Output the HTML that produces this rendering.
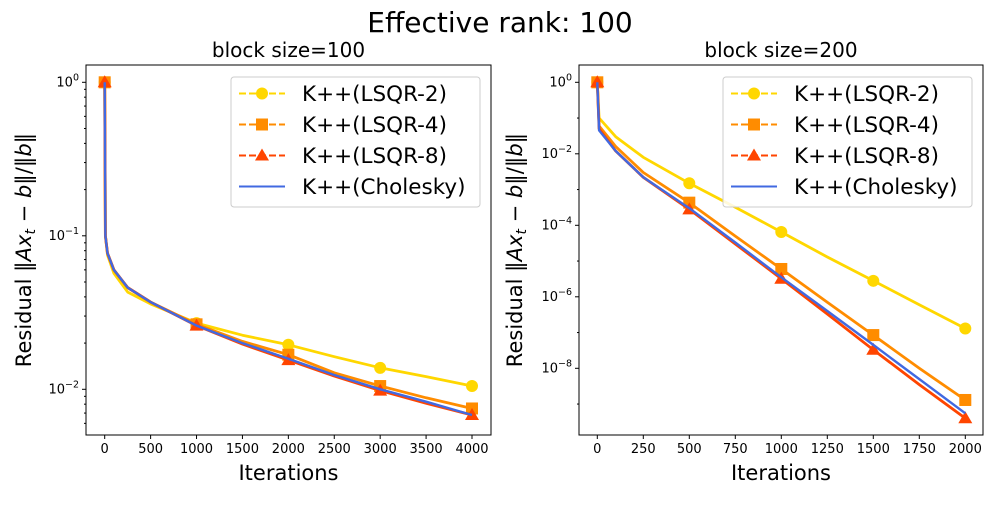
<!DOCTYPE html>
<html><head><meta charset="utf-8"><style>
body{margin:0;background:#fff}
svg text{font-family:"DejaVu Sans","Liberation Sans",sans-serif;fill:#000}
</style></head><body>
<svg id="fig" width="1000" height="500" xmlns="http://www.w3.org/2000/svg">
<text x="500" y="32" font-size="28" text-anchor="middle">Effective rank: 100</text>
</svg>
<script>
// ---- data ----
const seriesNames = ["K++(LSQR-2)","K++(LSQR-4)","K++(LSQR-8)","K++(Cholesky)"];
// left panel (block size=100)
const leftIters = [0, 8, 30, 100, 250, 500, 1000, 1500, 2000, 2500, 3000, 3500, 4000];
const leftLSQR2 = [1, 0.1, 0.075, 0.057, 0.043, 0.036, 0.027, 0.0225, 0.0195, 0.0163, 0.0138, 0.0121, 0.0105];
const leftLSQR4 = [1, 0.1, 0.077, 0.06, 0.046, 0.037, 0.0265, 0.0205, 0.0168, 0.0128, 0.0105, 0.0088, 0.0075];
const leftLSQR8 = [1, 0.1, 0.077, 0.06, 0.046, 0.037, 0.026, 0.0197, 0.0155, 0.0122, 0.0098, 0.0081, 0.0068];
const leftChol  = [1, 0.1, 0.077, 0.06, 0.046, 0.037, 0.026, 0.020, 0.0158, 0.0124, 0.0100, 0.0083, 0.0068];
const leftMarkIdx = [0, 6, 8, 10, 12];
const leftXTicks = [0,500,1000,1500,2000,2500,3000,3500,4000];
// right panel (block size=200)
const rightIters = [0, 10, 100, 250, 500, 750, 1000, 1250, 1500, 1750, 2000];
const rightLSQR2 = [1, 0.1, 0.03, 0.008, 1.5e-3, 3.2e-4, 6.5e-5, 1.3e-5, 2.8e-6, 6e-7, 1.3e-7];
const rightLSQR4 = [1, 0.06, 0.016, 0.003, 4.3e-4, 5e-5, 6e-6, 7e-7, 8.5e-8, 1e-8, 1.3e-9];
const rightLSQR8 = [1, 0.05, 0.012, 0.0022, 2.8e-4, 3e-5, 3.2e-6, 3.3e-7, 3.3e-8, 3.5e-9, 4e-10];
const rightChol  = [1, 0.045, 0.012, 0.0022, 3e-4, 3.3e-5, 3.5e-6, 4e-7, 4.5e-8, 5e-9, 5.5e-10];
const rightMarkIdx = [0, 4, 6, 8, 10];
const rightXTicks = [0,250,500,750,1000,1250,1500,1750,2000];

const colors = ["#FFD700","#FF8C00","#FF4500","#4169E1"];
const NS="http://www.w3.org/2000/svg";
const svg=document.getElementById('fig');
function mk(tag,attrs,parent){const e=document.createElementNS(NS,tag);for(const k in attrs)e.setAttribute(k,attrs[k]);(parent||svg).appendChild(e);return e;}

function marker(g,type,x,y,c){
  if(type===0) return mk('circle',{cx:x,cy:y,r:6,fill:c},g);
  if(type===1) return mk('rect',{x:x-6,y:y-6,width:12,height:12,fill:c},g);
  if(type===2) return mk('polygon',{points:`${x},${y-7} ${x+7},${y+5} ${x-7},${y+5}`,fill:c},g);
}

function panel(p){
  const g=mk('g',{});
  
  
  const X=v=>p.x0px+(v-p.xmin)*(p.x1px-p.x0px)/(p.xmax-p.xmin);
  const Y=v=>p.yTopRef-(Math.log10(v))*p.decPx;
  p.series.forEach((vals,si)=>{
    const pts=p.iters.map((it,i)=>X(it).toFixed(1)+','+Y(vals[i]).toFixed(1)).join(' ');
    const l=mk('polyline',{points:pts,fill:'none',stroke:colors[si],'stroke-width':si===3?2.4:2.8,'stroke-linejoin':'round'},g);
    
    
    if(si<3){p.markIdx.forEach(i=>{
      const m=marker(g,si,X(p.iters[i]),Y(vals[i]),colors[si]);
      
      
    });}
  });
  const fr=mk('rect',{x:p.ax0,y:p.ay0,width:p.ax1-p.ax0,height:p.ay1-p.ay0,fill:'none',stroke:'#000','stroke-width':1},g);
  
  
  p.xticks.forEach(t=>{
    const x=X(t);
    mk('line',{x1:x,x2:x,y1:p.ay1,y2:p.ay1+4,stroke:'#000'},g);
    const tx=mk('text',{x:x,y:p.ay1+18,'font-size':13,'text-anchor':'middle'},g);
    tx.textContent=t;
    
    
  });
  p.yExps.forEach(e=>{
    const y=Y(Math.pow(10,e));
    mk('line',{x1:p.ax0-4,x2:p.ax0,y1:y,y2:y,stroke:'#000'},g);
    const tx=mk('text',{x:p.ax0-7,y:y+4,'font-size':13,'text-anchor':'end'},g);
    tx.innerHTML='10<tspan dy="-6" font-size="9.5">'+(e<0?'\u2212'+(-e):e)+'</tspan>';
    
    
  });
  p.minor.forEach(v=>{
    const y=Y(v); if(y<p.ay0||y>p.ay1) return;
    mk('line',{x1:p.ax0-2,x2:p.ax0,y1:y,y2:y,stroke:'#000'},g);
  });
  const tt=mk('text',{x:(p.ax0+p.ax1)/2,y:57,'font-size':20,'text-anchor':'middle'},g);
  tt.textContent=p.title;
  
  
  const xl=mk('text',{x:(p.ax0+p.ax1)/2,y:480,'font-size':21,'text-anchor':'middle'},g);
  xl.textContent='Iterations';
  
  
  const yl=mk('text',{x:0,y:0,'font-size':21,'text-anchor':'middle',transform:`translate(${p.ylx},${(p.ay0+p.ay1)/2}) rotate(-90)`},g);
  yl.innerHTML='Residual \u2016<tspan font-style="italic">Ax</tspan><tspan font-style="italic" font-size="14" dy="4">t</tspan><tspan dy="-4"> \u2212 </tspan><tspan font-style="italic">b</tspan>\u2016/\u2016<tspan font-style="italic">b</tspan>\u2016';
  
  
  const lg=mk('g',{},g);
  
  
  mk('rect',{x:p.lx,y:77,width:p.lw,height:130,rx:3,fill:'#fff','fill-opacity':0.85,stroke:'#ccc'},lg);
  seriesNames.forEach((n,i)=>{
    const y=93.5+i*31;
    mk('line',{x1:p.lx+8,x2:p.lx+54,y1:y,y2:y,stroke:colors[i],'stroke-width':2,'stroke-dasharray':i<3?'7,3':'none'},lg);
    if(i<3) marker(lg,i,p.lx+31,y,colors[i]);
    const t=mk('text',{x:p.lx+71,y:y+7.5,'font-size':21.5},lg);
    t.textContent=n;
    
    
  });
}
const leftMinor=[];[0.01,0.1].forEach(b=>{for(let k=2;k<=9;k++)leftMinor.push(b*k);});leftMinor.push(0.006,0.007,0.008,0.009);
panel({name:'left-panel',title:'block size=100',ax0:86,ax1:491,ay0:65,ay1:435,x0px:104.7,x1px:472,xmin:0,xmax:4000,
  yTopRef:82.3,decPx:153.5,iters:leftIters,series:[leftLSQR2,leftLSQR4,leftLSQR8,leftChol],markIdx:leftMarkIdx,
  xticks:leftXTicks,yExps:[0,-1,-2],minor:leftMinor,ylx:31,lx:231,lw:249});
panel({name:'right-panel',title:'block size=200',ax0:579,ax1:983,ay0:65,ay1:435,x0px:597.3,x1px:965.3,xmin:0,xmax:2000,
  yTopRef:82.3,decPx:35.75,iters:rightIters,series:[rightLSQR2,rightLSQR4,rightLSQR8,rightChol],markIdx:rightMarkIdx,
  xticks:rightXTicks,yExps:[0,-2,-4,-6,-8],minor:[0.1,1e-3,1e-5,1e-7,1e-9],ylx:522,lx:723,lw:249});
</script>
</body></html>
